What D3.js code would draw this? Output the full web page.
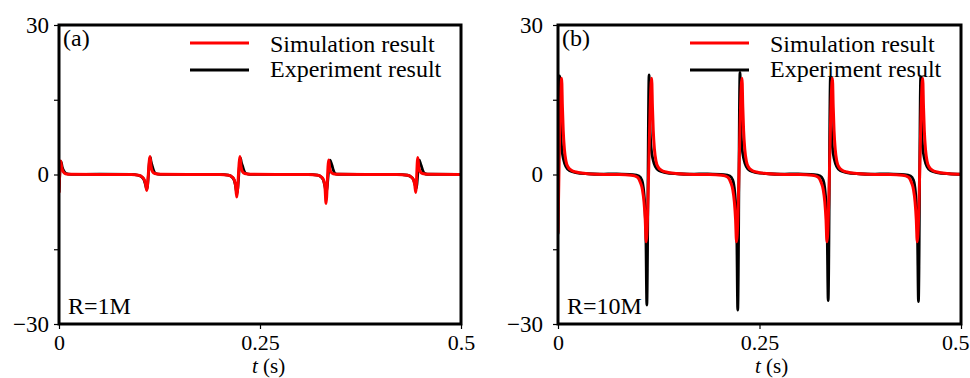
<!DOCTYPE html>
<html>
<head>
<meta charset="utf-8">
<script src="https://cdn.jsdelivr.net/npm/d3@7/dist/d3.min.js"></script>
<style>
html,body{margin:0;padding:0;background:#fff;}
svg{display:block;}
text{font-family:"Liberation Serif","Times New Roman",serif;fill:#000;}
</style>
</head>
<body>
<svg id="chart" width="970" height="378"></svg>
<script>
// ---------- data (t in s, value) ----------
const xTicks = [0, 0.25, 0.5];
const xTickLabels = ["0", "0.25", "0.5"];
const yTicks = [-30, -15, 0, 15, 30];
const yTickLabels = ["\u221230", "", "0", "", "30"];
const seriesNames = ["Simulation result", "Experiment result"];
const panelLabels = ["(a)", "(b)"];
const resistLabels = ["R=1M", "R=10M"];

// Panel (a) R=1M
const simA = [[0,-3.7],[0.002,2.7],[0.0035,1.3],[0.0055,0.5],[0.008,0.15],[0.014,0.03],[0.05,0],[0.09,0],
 [0.099,-0.15],[0.1035,-0.5],[0.1062,-1.1],[0.1078,-2.0],[0.1091,-3.2],[0.1132,3.6],[0.1145,1.6],[0.1162,0.6],[0.119,0.2],[0.126,0.04],[0.16,0],[0.2,0],
 [0.211,-0.15],[0.2155,-0.5],[0.2182,-1.2],[0.2197,-2.3],[0.2210,-4.5],[0.2251,3.6],[0.2264,1.6],[0.2281,0.6],[0.2309,0.2],[0.2379,0.04],[0.27,0],[0.31,0],
 [0.322,-0.15],[0.3265,-0.5],[0.3292,-1.2],[0.3308,-2.5],[0.3321,-5.8],[0.3354,2.9],[0.3366,1.4],[0.3382,0.5],[0.341,0.15],[0.348,0.03],[0.385,0],[0.42,0],
 [0.4337,-0.15],[0.4382,-0.5],[0.4409,-1.1],[0.4425,-2.1],[0.4437,-3.6],[0.4462,3.4],[0.4475,1.5],[0.4492,0.6],[0.452,0.2],[0.459,0.04],[0.5,0]];
const expA = [[0,-3.5],[0.0025,2.6],[0.004,1.5],[0.006,0.7],[0.009,0.2],[0.015,0.03],[0.05,0.05],[0.09,0.03],
 [0.0985,-0.15],[0.103,-0.5],[0.1058,-1.1],[0.1075,-2.0],[0.1092,-3.0],[0.1135,3.5],[0.1145,2.6],[0.116,1.7],[0.1175,0.9],[0.1195,0.3],[0.123,0.08],[0.13,0.02],[0.16,0.04],[0.2,0.02],
 [0.2105,-0.15],[0.215,-0.5],[0.2178,-1.1],[0.2195,-2.2],[0.2213,-3.8],[0.2258,3.3],[0.2266,2.6],[0.2283,1.7],[0.2298,0.9],[0.2318,0.3],[0.2353,0.08],[0.24,0.02],[0.27,0.04],[0.31,0.02],
 [0.3215,-0.15],[0.326,-0.5],[0.3288,-1.1],[0.3305,-2.2],[0.3324,-3.5],[0.3371,2.9],[0.3379,2.6],[0.3396,1.8],[0.3412,0.9],[0.3433,0.2],[0.347,0.05],[0.385,0.03],[0.42,0.02],
 [0.4335,-0.15],[0.438,-0.5],[0.4408,-1.0],[0.4425,-1.8],[0.4442,-2.8],[0.4482,2.9],[0.449,2.5],[0.4507,1.7],[0.4522,0.9],[0.4543,0.25],[0.458,0.05],[0.5,0.02]];

// Panel (b) R=10M
const simB = [[0,-11.7],[0.0045,19.3],[0.0055,13.5],[0.0065,8.8],[0.008,5.0],[0.010,2.6],[0.0125,1.5],[0.0165,0.85],[0.0225,0.5],[0.0345,0.2],[0.0495,0.05],[0.065,0],
 [0.0762,0],[0.0912,-0.15],[0.0982,-0.5],[0.1022,-1.6],[0.1047,-3.0],[0.1067,-5.5],[0.1082,-9.0],[0.1094,-13.5],[0.1162,19.3],[0.1172,13.5],[0.1182,8.8],[0.1197,5.0],[0.1217,2.6],[0.1242,1.5],[0.1282,0.85],[0.1342,0.5],[0.1462,0.2],[0.1612,0.05],[0.1762,0],
 [0.1883,0],[0.2033,-0.15],[0.2103,-0.5],[0.2143,-1.6],[0.2168,-3.0],[0.2188,-5.5],[0.2203,-9.0],[0.2215,-13.5],[0.2283,19.3],[0.2293,13.5],[0.2303,8.8],[0.2318,5.0],[0.2338,2.6],[0.2363,1.5],[0.2403,0.85],[0.2463,0.5],[0.2583,0.2],[0.2733,0.05],[0.2883,0],
 [0.3005,0],[0.3155,-0.15],[0.3225,-0.5],[0.3265,-1.6],[0.329,-3.0],[0.331,-5.5],[0.3325,-9.0],[0.3337,-13.5],[0.3405,19.3],[0.3415,13.5],[0.3425,8.8],[0.344,5.0],[0.346,2.6],[0.3485,1.5],[0.3525,0.85],[0.3585,0.5],[0.3705,0.2],[0.3855,0.05],[0.4005,0],
 [0.4125,0],[0.4275,-0.15],[0.4345,-0.5],[0.4385,-1.6],[0.441,-3.0],[0.443,-5.5],[0.4445,-9.0],[0.4457,-13.5],[0.4525,19.3],[0.4535,13.5],[0.4545,8.8],[0.456,5.0],[0.458,2.6],[0.4605,1.5],[0.4645,0.85],[0.4705,0.5],[0.4825,0.2],[0.4975,0.05],[0.5,0.04]];
const expB = [[0,-12],[0.002,19.8],[0.0032,9.6],[0.0045,5.5],[0.007,2.9],[0.010,1.5],[0.014,0.8],[0.022,0.4],[0.037,0.15],[0.052,0.05],[0.062,0.12],[0.073,0.1],
 [0.093,-0.05],[0.1005,-0.3],[0.104,-1.1],[0.1065,-3.5],[0.108,-7],[0.109,-12],[0.1102,-26.2],[0.1130,20.0],[0.1142,9.6],[0.1155,5.5],[0.118,2.9],[0.121,1.5],[0.125,0.8],[0.133,0.4],[0.148,0.15],[0.163,0.05],[0.175,0.12],
 [0.1858,0.1],[0.2058,-0.05],[0.2133,-0.3],[0.2168,-1.1],[0.2193,-3.5],[0.2208,-7],[0.2218,-12],[0.223,-27.2],[0.2258,20.5],[0.227,9.6],[0.2283,5.5],[0.2308,2.9],[0.2338,1.5],[0.2378,0.8],[0.2458,0.4],[0.2608,0.15],[0.2758,0.05],[0.287,0.12],
 [0.298,0.1],[0.318,-0.05],[0.3255,-0.3],[0.329,-1.1],[0.3315,-3.5],[0.333,-7],[0.334,-12],[0.3352,-25.3],[0.338,19.6],[0.3392,9.6],[0.3405,5.5],[0.343,2.9],[0.346,1.5],[0.35,0.8],[0.358,0.4],[0.373,0.15],[0.388,0.05],[0.399,0.12],
 [0.41,0.1],[0.43,-0.05],[0.4375,-0.3],[0.441,-1.1],[0.4435,-3.5],[0.445,-7],[0.446,-12],[0.4472,-25.5],[0.45,19.6],[0.4512,9.6],[0.4525,5.5],[0.455,2.9],[0.458,1.5],[0.462,0.8],[0.47,0.4],[0.485,0.15],[0.5,0.05]];

// ---------- drawing ----------
const svg = d3.select("#chart");
const FONT = "'Liberation Serif','Times New Roman',serif";
const panels = [
  {x0:59, x1:461, sim:simA, exp:expA, lab:panelLabels[0], res:resistLabels[0], labPad:5, legX:190, titleX:252},
  {x0:558, x1:961, sim:simB, exp:expB, lab:panelLabels[1], res:resistLabels[1], labPad:10, legX:690, titleX:755}
];
const yTop = 25, yBot = 324;

panels.forEach((p, i) => {
  const x = d3.scaleLinear().domain([0, 0.5]).range([p.x0, p.x1]);
  const y = d3.scaleLinear().domain([-30, 30]).range([yBot, yTop]);
  const g = svg.append("g");

  // y axis
  const ya = g.append("g").attr("transform", `translate(${p.x0},0)`)
    .call(d3.axisLeft(y).tickValues(yTicks).tickSize(5).tickPadding(p.labPad)
      .tickFormat((d, k) => yTickLabels[k]));
  ya.attr("font-family", FONT).attr("font-size", 23);
  ya.select(".domain").remove();
  ya.selectAll("text").style("font-size", "23px").style("font-family", FONT);
  ya.selectAll("line").attr("stroke", "#000").attr("stroke-width", 1.2);

  // x axis
  const xa = g.append("g").attr("transform", `translate(0,${yBot})`)
    .call(d3.axisBottom(x).tickValues(xTicks).tickSize(5).tickPadding(5)
      .tickFormat((d, k) => xTickLabels[k]));
  xa.attr("font-family", FONT).attr("font-size", 22);
  xa.select(".domain").remove();
  xa.selectAll("text").style("font-size", "22px").style("font-family", FONT);
  xa.selectAll("line").attr("stroke", "#000").attr("stroke-width", 1.2);
  if (i === 1) {
    xa.selectAll(".tick").filter(d => d === 0.5).select("text")
      .attr("text-anchor", "end").attr("x", 969 - p.x1);
  }

  // axis title
  const tt = g.append("text").attr("x", p.titleX).attr("y", 373.3).style("font-size", "21px");
  tt.append("tspan").style("font-style", "italic").text("t");
  tt.append("tspan").text(" (s)");

  // legend
  const legY = [43, 70];
  const legCol = ["#ff0000", "#000"];
  seriesNames.forEach((n, k) => {
    g.append("line").attr("x1", p.legX).attr("x2", p.legX + 59)
      .attr("y1", legY[k]).attr("y2", legY[k])
      .attr("stroke", legCol[k]).attr("stroke-width", 3);
    g.append("text").attr("x", p.legX + 80).attr("y", legY[k] + (k === 0 ? 9 : 7))
      .style("font-size", "24px").text(n);
  });

  // panel label & resistance
  g.append("text").attr("x", p.x0 + 4).attr("y", 46).style("font-size", "24px").text(p.lab);
  g.append("text").attr("x", p.x0 + 9).attr("y", 314).style("font-size", "24px").text(p.res);

  // clip
  svg.append("clipPath").attr("id", "clip" + i).append("rect")
    .attr("x", p.x0).attr("y", yTop).attr("width", p.x1 - p.x0).attr("height", yBot - yTop);

  const line = d3.line().x(d => x(d[0])).y(d => y(d[1])).curve(d3.curveMonotoneX);
  const lg = g.append("g").attr("clip-path", `url(#clip${i})`);
  lg.append("path").datum(p.exp).attr("d", line).attr("fill", "none")
    .attr("stroke", "#000").attr("stroke-width", 2.8).attr("stroke-linejoin", "round");
  lg.append("path").datum(p.sim).attr("d", line).attr("fill", "none")
    .attr("stroke", "#ff0000").attr("stroke-width", 3).attr("stroke-linejoin", "round");

  // frame
  g.append("rect").attr("x", p.x0).attr("y", yTop).attr("width", p.x1 - p.x0).attr("height", yBot - yTop)
    .attr("fill", "none").attr("stroke", "#000").attr("stroke-width", 3);
});
</script>
</body>
</html>
